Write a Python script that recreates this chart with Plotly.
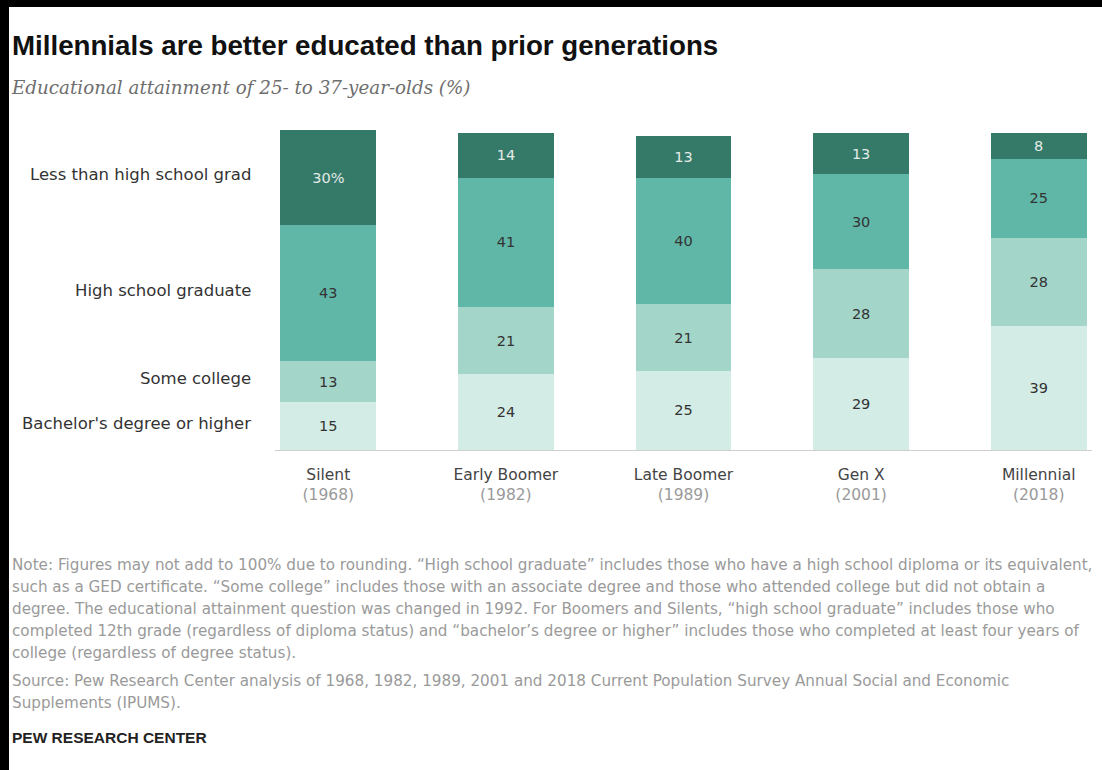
import plotly.graph_objects as go

# ---------------- data ----------------
generations = ["Silent", "Early Boomer", "Late Boomer", "Gen X", "Millennial"]
survey_years = ["1968", "1982", "1989", "2001", "2018"]

levels = ["Bachelor's degree or higher", "Some college",
          "High school graduate", "Less than high school grad"]
bachelors = [15, 24, 25, 29, 39]
some_college = [13, 21, 21, 28, 28]
hs_graduate = [43, 41, 40, 30, 25]
less_than_hs = [30, 14, 13, 13, 8]

title_text = "Millennials are better educated than prior generations"
subtitle_text = "Educational attainment of 25- to 37-year-olds (%)"
note_lines = [
    "Note: Figures may not add to 100% due to rounding. \u201cHigh school graduate\u201d includes those who have a high school diploma or its equivalent,",
    "such as a GED certificate. \u201cSome college\u201d includes those with an associate degree and those who attended college but did not obtain a",
    "degree. The educational attainment question was changed in 1992. For Boomers and Silents, \u201chigh school graduate\u201d includes those who",
    "completed 12th grade (regardless of diploma status) and \u201cbachelor\u2019s degree or higher\u201d includes those who completed at least four years of",
    "college (regardless of degree status).",
]
source_lines = [
    "Source: Pew Research Center analysis of 1968, 1982, 1989, 2001 and 2018 Current Population Survey Annual Social and Economic",
    "Supplements (IPUMS).",
]
credit_text = "PEW RESEARCH CENTER"

# ---------------- styling ----------------
W, H = 1102, 770
ML, MR, MT, MB = 275, 10, 130, 320
PW, PH = W - ML - MR, H - MT - MB

colors = ["#d4ece6", "#a3d5c9", "#60b7a8", "#357a68"]
text_colors = ["#333333", "#333333", "#333333", "#e3ece9"]
SANS = "Liberation Sans, Arial, sans-serif"
WIDE = "DejaVu Sans, Verdana, sans-serif"
SERIF = "DejaVu Serif, Georgia, serif"


def px_x(px):
    return (px - ML) / PW


def px_y(py):
    return (H - MB - py) / PH


series = [bachelors, some_college, hs_graduate, less_than_hs]
x_idx = list(range(len(generations)))

fig = go.Figure()
for k, (name, vals) in enumerate(zip(levels, series)):
    if k == len(series) - 1:
        texts = [f"{v}%" if i == 0 else str(v) for i, v in enumerate(vals)]
    else:
        texts = [str(v) for v in vals]
    fig.add_trace(go.Bar(
        x=x_idx, y=vals, name=name, text=texts,
        textposition="inside", insidetextanchor="middle", textangle=0,
        constraintext="none",
        textfont=dict(family=WIDE, size=14.5, color=text_colors[k]),
        marker=dict(color=colors[k], line=dict(width=0)),
        width=0.54, hoverinfo="skip", showlegend=False,
    ))

ticktext = [f"{g}<br><span style='color:#9a9a9a'>({y})</span>"
            for g, y in zip(generations, survey_years)]

fig.update_layout(
    width=W, height=H, barmode="stack",
    margin=dict(l=ML, r=MR, t=MT, b=MB, pad=0),
    paper_bgcolor="white", plot_bgcolor="white",
    xaxis=dict(range=[-0.3, 4.3], tickvals=x_idx, ticktext=ticktext,
               showgrid=False, zeroline=False, showline=True,
               linecolor="#cfcfcf", linewidth=1, ticks="",
               ticklabelstandoff=10,
               tickfont=dict(family=WIDE, size=15.5, color="#444444"),
               fixedrange=True),
    yaxis=dict(range=[0, 101], visible=False, fixedrange=True),
)

ann = []
# left category labels aligned with the Silent bar segments
cum = 0
for name, vals in zip(levels, series):
    mid = cum + vals[0] / 2
    cum += vals[0]
    ann.append(dict(xref="paper", yref="y", x=0, y=mid, xanchor="right",
                    yanchor="middle", xshift=-22, yshift=3, text=name,
                    showarrow=False,
                    font=dict(family=WIDE, size=16.5, color="#333333")))

ann.append(dict(xref="paper", yref="paper", x=px_x(10), y=px_y(45),
                xanchor="left", yanchor="middle", text=f"<b>{title_text}</b>",
                showarrow=False, font=dict(family=SANS, size=27.7, color="#111111")))
ann.append(dict(xref="paper", yref="paper", x=px_x(9), y=px_y(87),
                xanchor="left", yanchor="middle", text=f"<i>{subtitle_text}</i>",
                showarrow=False, font=dict(family=SERIF, size=18.3, color="#6e6e6e")))

note_y = [565, 587, 609, 631, 653]
for line, py in zip(note_lines, note_y):
    ann.append(dict(xref="paper", yref="paper", x=px_x(10), y=px_y(py),
                    xanchor="left", yanchor="middle", text=line, showarrow=False,
                    font=dict(family=WIDE, size=15.2, color="#9a9a9a")))
source_y = [681, 703]
for line, py in zip(source_lines, source_y):
    ann.append(dict(xref="paper", yref="paper", x=px_x(10), y=px_y(py),
                    xanchor="left", yanchor="middle", text=line, showarrow=False,
                    font=dict(family=WIDE, size=15.2, color="#9a9a9a")))
ann.append(dict(xref="paper", yref="paper", x=px_x(10), y=px_y(737),
                xanchor="left", yanchor="middle", text=f"<b>{credit_text}</b>",
                showarrow=False, font=dict(family=SANS, size=15.5, color="#222222")))
fig.update_layout(annotations=ann)

# black screenshot edges (top and left)
fig.add_shape(type="rect", xref="paper", yref="paper",
              x0=px_x(0), x1=px_x(W), y0=px_y(7), y1=px_y(0),
              fillcolor="black", line=dict(width=0), layer="above")
fig.add_shape(type="rect", xref="paper", yref="paper",
              x0=px_x(0), x1=px_x(9), y0=px_y(H), y1=px_y(0),
              fillcolor="black", line=dict(width=0), layer="above")

fig.write_html("out.html", config={"displayModeBar": False},
               post_script="document.body.style.margin='0';document.body.style.overflow='hidden';")
